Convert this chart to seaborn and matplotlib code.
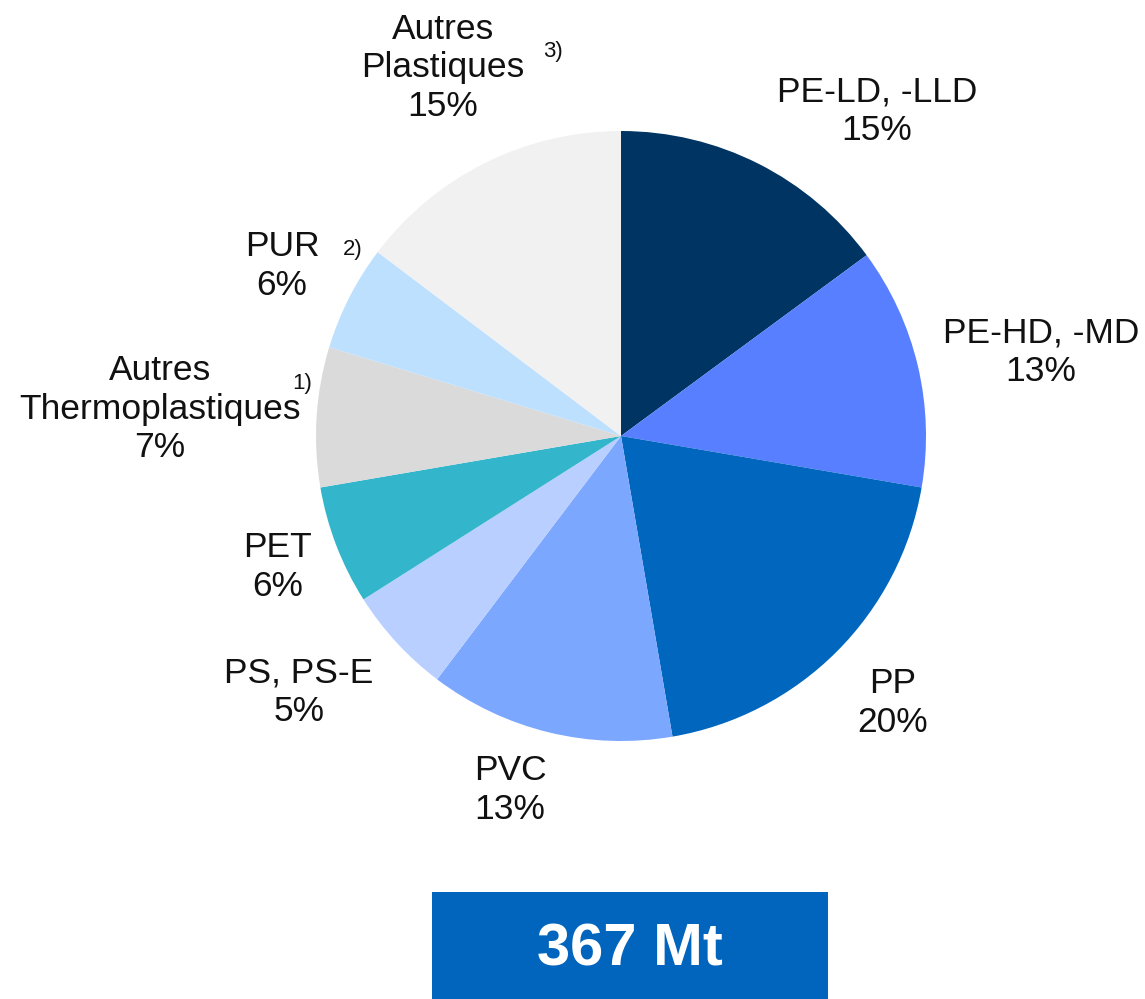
import matplotlib
matplotlib.use("Agg")
import matplotlib.pyplot as plt
import seaborn as sns
from matplotlib.patches import Rectangle

# data
polymers = ["PE-LD, -LLD", "PE-HD, -MD", "PP", "PVC", "PS, PS-E", "PET",
            "Autres\nThermoplastiques", "PUR", "Autres\nPlastiques"]
# wedge sizes, labels as printed
shares = [14.9, 12.8, 19.6, 13.0, 5.7, 6.3, 7.4, 5.6, 14.7]
pct_labels = ["15%", "13%", "20%", "13%", "5%", "6%", "7%", "6%", "15%"]
footnotes = ["", "", "", "", "", "", "1)", "2)", "3)"]
total_label = "367 Mt"

colors = ["#003462", "#587FFF", "#0066BE", "#7BA7FF", "#B9CFFF",
          "#33B5CB", "#DADADA", "#BEE0FF", "#F1F1F1"]

# layout (pixel centres of label blocks and footnote marks)
W, H = 1145, 999
label_pos = [(877, 111), (1041, 352), (893, 703), (510, 790), (299, 692),
             (278, 567), (160, 409), (282, 266), (443, 68)]
note_pos = [None, None, None, None, None, None, (302, 383), (353, 250), (553, 51)]

sns.set_theme(style="white")
plt.rcParams["font.family"] = ["Liberation Sans", "DejaVu Sans"]

fig = plt.figure(figsize=(W / 100, H / 100), dpi=100)
cx, cy, r = 621, 436, 305
ax = fig.add_axes([(cx - r) / W, 1 - (cy + r) / H, 2 * r / W, 2 * r / H])
ax.pie(shares, colors=sns.color_palette(colors), startangle=90,
       counterclock=False, radius=1, wedgeprops=dict(linewidth=0))
ax.set_xlim(-1, 1)
ax.set_ylim(-1, 1)
ax.set_axis_off()

for name, pct, (px, py) in zip(polymers, pct_labels, label_pos):
    fig.text(px / W, 1 - py / H, f"{name}\n{pct}", ha="center", va="center",
             fontsize=25.5, linespacing=1.2, color="#111111")

for note, pos in zip(footnotes, note_pos):
    if pos:
        fig.text(pos[0] / W, 1 - pos[1] / H, note, ha="center", va="center",
                 fontsize=16, color="#111111")

# total box
box = Rectangle((432 / W, 0), (828 - 432) / W, (H - 892) / H,
                transform=fig.transFigure, color="#0165BD", lw=0)
fig.patches.append(box)
fig.text(630 / W, 1 - 950 / H, total_label, ha="center", va="center",
         fontsize=43, fontweight="bold", color="white")

fig.savefig("out.png", dpi=100)
